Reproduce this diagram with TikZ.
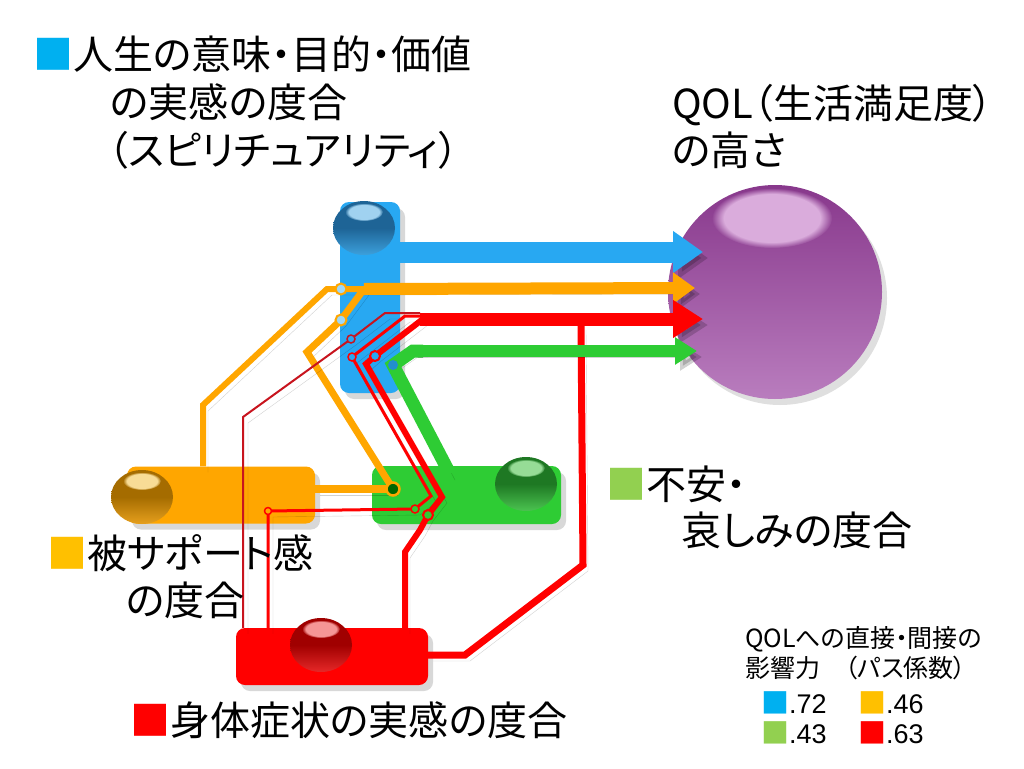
\documentclass[tikz,border=0pt]{standalone}
\usepackage{fontspec}
\setmainfont{Noto Sans CJK JP}[RawFeature=+palt]
\newfontfamily\numfont{Liberation Sans}
\usetikzlibrary{shadows,arrows.meta,fadings}
\definecolor{cblue}{RGB}{40,168,242}
\definecolor{corange}{RGB}{255,166,0}
\definecolor{cgreen}{RGB}{46,204,52}
\definecolor{cred}{RGB}{255,0,0}
\definecolor{cdred}{RGB}{200,20,30}
\definecolor{cpurple}{RGB}{136,56,140}
\definecolor{cpurpleL}{RGB}{185,125,190}
\definecolor{cpurpleH}{RGB}{218,172,220}
\definecolor{lblue}{RGB}{0,176,240}
\definecolor{lorange}{RGB}{255,192,0}
\definecolor{lgreen}{RGB}{146,208,80}
\definecolor{lred}{RGB}{255,0,0}
\definecolor{bbD}{RGB}{30,100,150}\definecolor{bbL}{RGB}{60,160,220}\definecolor{bbH}{RGB}{160,210,240}
\definecolor{obD}{RGB}{165,108,0}\definecolor{obL}{RGB}{230,160,30}\definecolor{obH}{RGB}{248,220,150}
\definecolor{gbD}{RGB}{30,120,35}\definecolor{gbL}{RGB}{75,195,80}\definecolor{gbH}{RGB}{150,220,150}
\definecolor{rbD}{RGB}{160,0,0}\definecolor{rbL}{RGB}{230,40,40}\definecolor{rbH}{RGB}{245,150,150}
\newcommand\glossball[4]{%
 \begin{scope}[shift={#1}]
  \shade[top color=#2, bottom color=#3, middle color=#2] (0,0) ellipse [x radius=31pt, y radius=27pt];
  \fill[#4, path fading=circle with fuzzy edge 20 percent] (0,-16) ellipse [x radius=19pt, y radius=9pt];
 \end{scope}}
\newcommand\legsq[1]{{\color{#1}\fontsize{28}{30}\selectfont ■}}
\newcommand\legnum[1]{{\numfont\fontsize{27}{30}\selectfont #1}}
\begin{document}
\begin{tikzpicture}[x=1pt,y=-1pt,
  box/.style={rectangle, rounded corners=9pt, inner sep=0pt,
    drop shadow={shadow xshift=5pt, shadow yshift=-6pt, opacity=0.3}},
  lshad/.style={preaction={draw=black, opacity=0.18, transform canvas={shift={(5pt,-6pt)}}}},
  route/.style={lshad, line join=miter},
  jct/.style={circle, inner sep=0pt},
  lab/.style={anchor=base west, inner sep=0pt, font=\fontsize{40}{47}\selectfont},
  leg/.style={anchor=base west, inner sep=0pt, font=\fontsize{25}{30}\selectfont},
  num/.style={anchor=base west, inner sep=0pt},
]
\useasboundingbox (0,0) rectangle (1024,768);
\fill[white] (0,0) rectangle (1024,768);

% target sphere
\node[circle, minimum size=214pt, inner sep=0pt, top color=cpurple, middle color=cpurple,
  bottom color=cpurpleL, drop shadow={shadow xshift=5pt, shadow yshift=-6pt, opacity=0.25}] (qol) at (775,292) {};
\fill[cpurpleH, path fading=circle with fuzzy edge 20 percent] (772,218) ellipse [x radius=60pt, y radius=30pt];

% boxes
\node[box, fill=cblue, minimum width=60pt, minimum height=191pt] (spirit) at (370,297.5) {};
\node[box, fill=corange, minimum width=188pt, minimum height=57pt] (support) at (221,495) {};
\node[box, fill=cgreen, minimum width=189pt, minimum height=58pt] (anx) at (466.5,495) {};
\node[box, fill=cred, minimum width=192pt, minimum height=57pt] (body) at (332,656.5) {};

\glossball{(364,228)}{bbD}{bbL}{bbH}
\glossball{(142,497)}{obD}{obL}{obH}
\glossball{(526,484)}{gbD}{gbL}{gbH}
\glossball{(321,645)}{rbD}{rbL}{rbH}

% route coordinates
\coordinate (tipB) at (703,252);
\coordinate (tipO) at (695,288);
\coordinate (tipR) at (703,319);
\coordinate (tipG) at (697,351);
\coordinate (oA) at (203,405);
\coordinate (oB) at (327,289);
\coordinate (o1) at (341,289);
\coordinate (oJ) at (364,289);
\coordinate (og) at (393,489);
\coordinate (oC) at (307,352);
\coordinate (o2) at (341,320);
\coordinate (gS) at (450,474);
\coordinate (gA) at (393,365);
\coordinate (gB) at (413,351);
\coordinate (rA) at (243,417);
\coordinate (rA1) at (351,339);
\coordinate (rA2) at (385,313);
\coordinate (rAe) at (420,313);
\coordinate (rB0) at (268,511);
\coordinate (rB1) at (415,509);
\coordinate (rB2) at (431,496);
\coordinate (rB3) at (352,357);
\coordinate (rB4) at (405,316);
\coordinate (rBe) at (425,316);
\coordinate (rC0) at (405,552);
\coordinate (rC1) at (420,530);
\coordinate (rC2) at (428,515);
\coordinate (rC3) at (442,497);
\coordinate (rC4) at (366,364);
\coordinate (rC5) at (375,356);
\coordinate (rC6) at (423,319);
\coordinate (rD0) at (465,655);
\coordinate (rD1) at (583,565);
\coordinate (rD2) at (581,324);

% blue direct arrow
\draw[route, cblue, line width=21pt, -{Triangle[length=30pt,width=40pt]}]
  (spirit.east |- tipB) -- (tipB);

% orange routes
\draw[route, corange, line width=6pt] (support.north -| oA) -- (oA) -- (oB) -- (o1) -- (oJ);
\draw[route, corange, line width=8pt] (support.east |- og) -- (og);
\draw[route, corange, line width=7pt] (og) -- (oC) -- (o2) -- (oJ);
\draw[route, corange, line width=12pt, -{Triangle[length=22pt,width=30pt]}] (oJ) -- (tipO);

% red routes
\draw[route, cdred, line width=2pt] (body.north -| rA) -- (rA) -- (rA1) -- (rA2) -- (rAe);
\draw[route, cred, line width=3pt] (body.north -| rB0) -- (rB0) -- (rB1) -- (rB2) -- (rB3) -- (rB4) -- (rBe);
\draw[route, cred, line width=6pt] (body.north -| rC0) -- (rC0) -- (rC1) -- (rC2) -- (rC3) -- (rC4) -- (rC5) -- (rC6);
\draw[route, cred, line width=7pt] (body.east |- rD0) -- (rD0) -- (rD1) -- (rD2);
\draw[route, cred, line width=13pt, -{Triangle[length=30pt,width=36pt]}] (rAe |- tipR) -- (tipR);

% green route
\draw[route, cgreen, line width=13pt] (gS) -- (gA) -- (gB) -- ++(10,0);
\draw[route, cgreen, line width=12pt, -{Triangle[length=22pt,width=26pt]}] (gB) -- (tipG);

% junction rings
\node[jct, draw=corange, fill=cblue!45!white, line width=2pt, minimum size=11pt] (j1) at (o1) {};
\node[jct, draw=corange, fill=cblue!45!white, line width=2pt, minimum size=11pt] (j2) at (o2) {};
\node[jct, draw=corange, fill=green!40!black, line width=2.5pt, minimum size=13pt] (j3) at (og) {};
\node[jct, fill=cblue!85!black, minimum size=10pt] (j4) at (gA) {};
\node[jct, draw=cdred, fill=cblue, line width=1.5pt, minimum size=8pt] (j5) at (rA1) {};
\node[jct, draw=cred, fill=corange, line width=1.5pt, minimum size=7pt] (j6) at (rB0) {};
\node[jct, draw=cred, fill=cgreen, line width=1.5pt, minimum size=8pt] (j7) at (rB1) {};
\node[jct, draw=cred, fill=cblue, line width=1.5pt, minimum size=8pt] (j8) at (rB3) {};
\node[jct, draw=cred, fill=cgreen, line width=2pt, minimum size=10pt] (j9) at (rC2) {};
\node[jct, draw=cred, fill=cblue, line width=2pt, minimum size=10pt] (j10) at (rC5) {};

% labels
\node[lab] (t1a) at (33,70) {{\color{lblue}■}人生の意味・目的・価値};
\node[lab] (t1b) at (110,117) {の実感の度合};
\node[lab] (t1c) at (108,165) {（スピリチュアリティ）};
\node[lab] (t2a) at (672,118) {QOL（生活満足度）};
\node[lab] (t2b) at (672,165) {の高さ};
\node[lab] (t3a) at (47,568) {{\color{lorange}■}被サポート感};
\node[lab] (t3b) at (126,615) {の度合};
\node[lab] (t4a) at (606,499) {{\color{lgreen}■}不安・};
\node[lab] (t4b) at (681,545) {哀しみの度合};
\node[lab] (t5) at (130,735) {{\color{lred}■}身体症状の実感の度合};
\node[leg] (l1) at (745,647.5) {QOLへの直接・間接の};
\node[leg] (l2) at (745,677.5) {影響力　（パス係数）};
\node[num] (n1) at (761,713) {\legsq{lblue}\legnum{.72}};
\node[num] (n2) at (858,713) {\legsq{lorange}\legnum{.46}};
\node[num] (n3) at (761,743) {\legsq{lgreen}\legnum{.43}};
\node[num] (n4) at (858,743) {\legsq{lred}\legnum{.63}};
\end{tikzpicture}
\end{document}
